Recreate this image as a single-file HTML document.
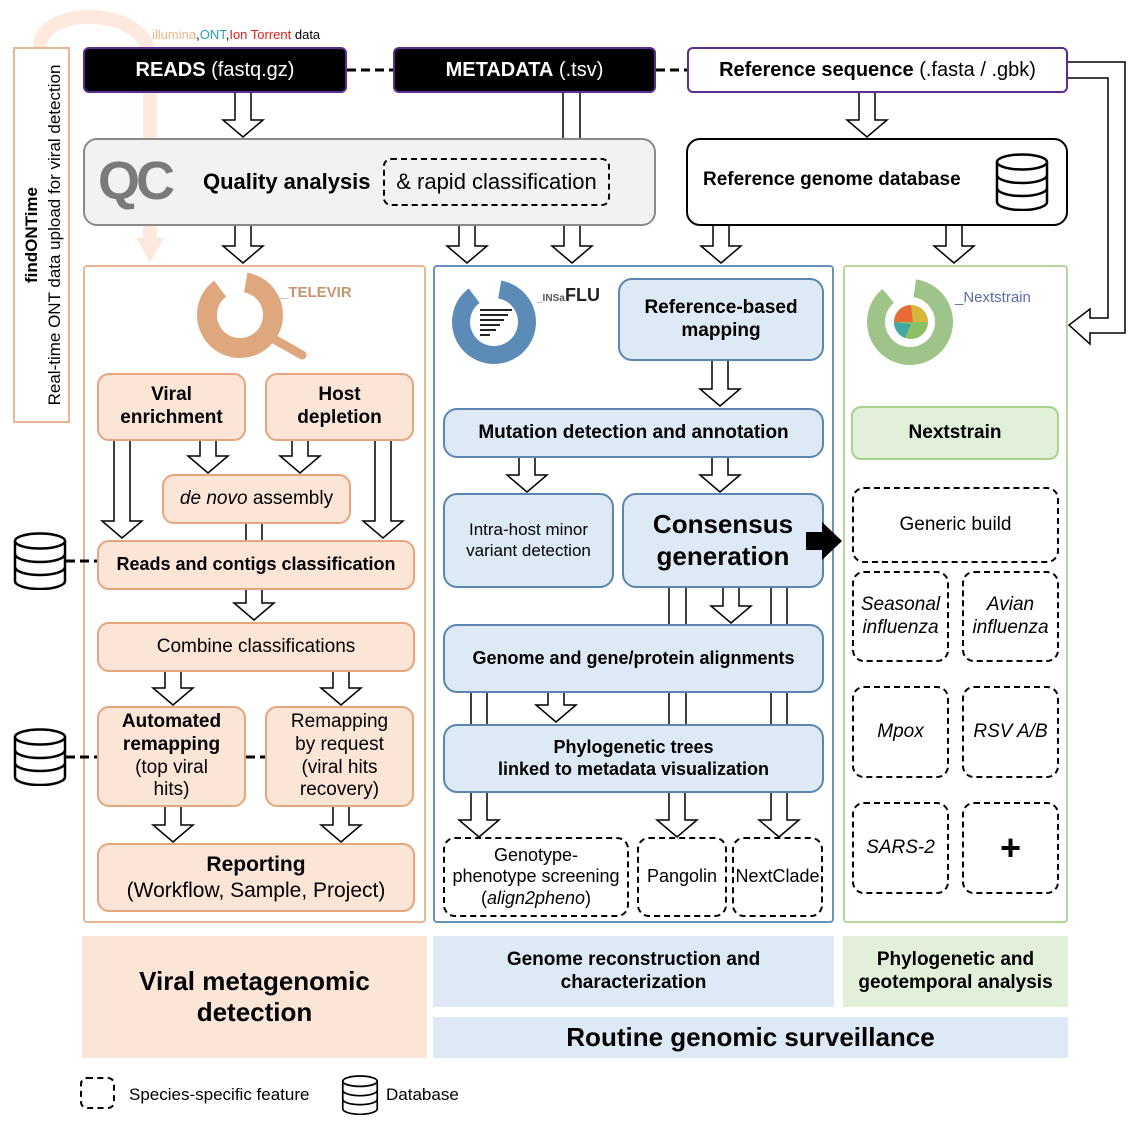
<!DOCTYPE html>
<html><head><meta charset="utf-8"><style>
body{margin:0;background:#fff;}
#c{position:relative;width:1142px;height:1125px;overflow:hidden;font-family:"Liberation Sans",Arial,sans-serif;color:#000;}
.b{position:absolute;box-sizing:border-box;display:flex;align-items:center;justify-content:center;text-align:center;line-height:1.2;}
.o{background:#fbe5d6;border:2px solid #e5a57d;border-radius:12px;font-size:19px;}
.bl{background:#dde9f5;border:2.5px solid #5a86b2;border-radius:14px;font-size:19px;}
.d{border:2px dashed #000;border-radius:12px;font-size:19px;background:#fff;}
.bold{font-weight:bold;}
svg{position:absolute;left:0;top:0;}
</style></head><body><div id="c">
<svg width="1142" height="1125" style="z-index:0">
<path d="M40 47 C40 5,150 5,150 60 V240" fill="none" stroke="#fde9dd" stroke-width="14"/>
<path d="M136 238 L164 238 L150 262Z" fill="#fde9dd"/>
</svg>

<!-- findONTime box -->
<div class="b" style="left:13px;top:47px;width:57px;height:376px;border:2px solid #e9b594;background:#fff;"></div>
<svg width="1142" height="1125" style="z-index:1">
<text transform="translate(37 235) rotate(-90)" text-anchor="middle" font-size="17" font-weight="bold">findONTime</text>
<text transform="translate(60 235) rotate(-90)" text-anchor="middle" font-size="17">Real-time ONT data upload for viral detection</text>
</svg>

<!-- top label -->
<div style="position:absolute;left:152px;top:27px;font-size:13px;"><span style="color:#f0b48a">illumina</span>,<span style="color:#2aa3b8">ONT</span>,<span style="color:#e0201b">Ion Torrent</span> data</div>

<div class="b" style="left:83px;top:47px;width:264px;height:46px;background:#000;border:2px solid #5c2d91;border-radius:6px;color:#fff;font-size:20px;"><b>READS</b>&nbsp;(fastq.gz)</div>
<div class="b" style="left:393px;top:47px;width:263px;height:46px;background:#000;border:2px solid #5c2d91;border-radius:6px;color:#fff;font-size:20px;"><b>METADATA</b>&nbsp;(.tsv)</div>
<div class="b" style="left:687px;top:47px;width:381px;height:46px;background:#fff;border:2px solid #5c2d91;border-radius:6px;font-size:20px;"><b>Reference sequence</b>&nbsp;(.fasta / .gbk)</div>

<!-- QC -->
<div class="b" style="left:83px;top:138px;width:573px;height:88px;background:#f2f2f2;border:2px solid #8a8a8a;border-radius:14px;"></div>
<div style="position:absolute;left:98px;top:150px;font-size:54px;font-weight:bold;color:#7a7a7a;letter-spacing:-4px;">QC</div>
<div style="position:absolute;left:203px;top:169px;font-size:22px;font-weight:bold;">Quality analysis</div>
<div class="b" style="left:383px;top:158px;width:227px;height:48px;border:2px dashed #000;border-radius:8px;font-size:22px;">&amp; rapid classification</div>

<div class="b" style="left:686px;top:138px;width:382px;height:88px;background:#fff;border:2.5px solid #000;border-radius:14px;"></div>
<div style="position:absolute;left:703px;top:169px;font-size:19px;font-weight:bold;">Reference genome database</div>

<!-- columns -->
<div class="b" style="left:83px;top:265px;width:343px;height:658px;border:2px solid #e9b594;border-radius:4px;"></div>
<div class="b" style="left:433px;top:265px;width:401px;height:658px;border:2px solid #6a93bb;border-radius:4px;"></div>
<div class="b" style="left:843px;top:265px;width:225px;height:658px;border:2px solid #b5d69e;border-radius:4px;"></div>

<!-- orange contents -->
<div class="b o bold" style="left:97px;top:373px;width:149px;height:68px;">Viral<br>enrichment</div>
<div class="b o bold" style="left:265px;top:373px;width:149px;height:68px;">Host<br>depletion</div>
<div class="b o" style="left:162px;top:474px;width:189px;height:50px;"><i>de novo</i>&nbsp;assembly</div>
<div class="b o bold" style="left:97px;top:540px;width:318px;height:50px;font-size:18px;">Reads and contigs classification</div>
<div class="b o" style="left:97px;top:622px;width:318px;height:50px;">Combine classifications</div>
<div class="b o" style="left:97px;top:706px;width:149px;height:101px;"><span><b>Automated<br>remapping</b><br>(top viral<br>hits)</span></div>
<div class="b o" style="left:265px;top:706px;width:149px;height:101px;">Remapping<br>by request<br>(viral hits<br>recovery)</div>
<div class="b o" style="left:97px;top:843px;width:318px;height:69px;font-size:21px;"><span><b>Reporting</b><br>(Workflow, Sample, Project)</span></div>

<!-- blue contents -->
<div class="b bl bold" style="left:618px;top:278px;width:206px;height:83px;">Reference-based<br>mapping</div>
<div class="b bl bold" style="left:443px;top:408px;width:381px;height:50px;">Mutation detection and annotation</div>
<div class="b bl" style="left:443px;top:493px;width:171px;height:95px;font-size:17px;">Intra-host minor<br>variant detection</div>
<div class="b bl bold" style="left:622px;top:493px;width:202px;height:95px;font-size:26px;">Consensus<br>generation</div>
<div class="b bl bold" style="left:443px;top:624px;width:381px;height:69px;font-size:18px;">Genome and gene/protein alignments</div>
<div class="b bl bold" style="left:443px;top:724px;width:381px;height:69px;font-size:18px;">Phylogenetic trees<br>linked to metadata visualization</div>
<div class="b d" style="left:443px;top:837px;width:186px;height:80px;font-size:18px;"><span>Genotype-<br>phenotype screening<br>(<i>align2pheno</i>)</span></div>
<div class="b d" style="left:637px;top:837px;width:90px;height:80px;font-size:18px;">Pangolin</div>
<div class="b d" style="left:732px;top:837px;width:91px;height:80px;font-size:18px;">NextClade</div>

<!-- green contents -->
<div class="b bold" style="left:851px;top:406px;width:208px;height:54px;background:#e2efd9;border:2.5px solid #a9d18e;border-radius:10px;font-size:19px;">Nextstrain</div>
<div class="b d" style="left:852px;top:487px;width:207px;height:76px;">Generic build</div>
<div class="b d" style="left:852px;top:571px;width:97px;height:91px;"><i>Seasonal<br>influenza</i></div>
<div class="b d" style="left:962px;top:571px;width:97px;height:91px;"><i>Avian<br>influenza</i></div>
<div class="b d" style="left:852px;top:686px;width:97px;height:92px;"><i>Mpox</i></div>
<div class="b d" style="left:962px;top:686px;width:97px;height:92px;"><i>RSV A/B</i></div>
<div class="b d" style="left:852px;top:802px;width:97px;height:92px;"><i>SARS-2</i></div>
<div class="b d" style="left:962px;top:802px;width:97px;height:92px;font-size:36px;font-weight:bold;">+</div>

<!-- bottom labels -->
<div class="b bold" style="left:82px;top:936px;width:345px;height:122px;background:#fbe5d6;font-size:26px;">Viral metagenomic<br>detection</div>
<div class="b bold" style="left:433px;top:936px;width:401px;height:71px;background:#dde9f5;font-size:19px;">Genome reconstruction and<br>characterization</div>
<div class="b bold" style="left:843px;top:936px;width:225px;height:71px;background:#e2efd9;font-size:19px;">Phylogenetic and<br>geotemporal analysis</div>
<div class="b bold" style="left:433px;top:1017px;width:635px;height:41px;background:#dde9f5;font-size:26px;">Routine genomic surveillance</div>

<!-- legend -->
<div class="b" style="left:80px;top:1077px;width:35px;height:32px;border:2px dashed #000;border-radius:7px;"></div>
<div style="position:absolute;left:129px;top:1085px;font-size:17px;">Species-specific feature</div>
<div style="position:absolute;left:386px;top:1085px;font-size:17px;">Database</div>

<svg width="1142" height="1125" style="z-index:5">
<defs>
<symbol id="db" viewBox="0 0 54 58">
<path d="M2 9V49A25 8 0 0 0 52 49V9" fill="#fff" stroke="#000" stroke-width="2.5"/>
<ellipse cx="27" cy="9" rx="25" ry="7.5" fill="#fff" stroke="#000" stroke-width="2.5"/>
<path d="M2 22A25 8 0 0 0 52 22M2 35A25 8 0 0 0 52 35" fill="none" stroke="#000" stroke-width="2.5"/>
</symbol>
</defs>
<!-- dashed connectors -->
<g stroke="#000" stroke-width="3" stroke-dasharray="9 5">
<line x1="347" y1="70" x2="393" y2="70"/><line x1="656" y1="70" x2="687" y2="70"/>
<line x1="66" y1="561" x2="97" y2="561"/><line x1="66" y1="757" x2="97" y2="757"/>
<line x1="246" y1="757" x2="265" y2="757"/>
</g>
<use href="#db" x="995" y="153" width="54" height="58"/>
<use href="#db" x="13" y="532" width="54" height="58"/>
<use href="#db" x="13" y="728" width="54" height="58"/>
<use href="#db" x="341" y="1075" width="38" height="40"/>
<!-- parallel lines -->
<g stroke="#000" stroke-width="1.5">
<line x1="563" y1="93" x2="563" y2="138"/><line x1="580" y1="93" x2="580" y2="138"/>
<line x1="246" y1="524" x2="246" y2="540"/><line x1="262" y1="524" x2="262" y2="540"/>
<line x1="669" y1="588" x2="669" y2="624"/><line x1="686" y1="588" x2="686" y2="624"/>
<line x1="771" y1="588" x2="771" y2="624"/><line x1="787" y1="588" x2="787" y2="624"/>
<line x1="471" y1="693" x2="471" y2="724"/><line x1="487" y1="693" x2="487" y2="724"/>
<line x1="669" y1="693" x2="669" y2="724"/><line x1="686" y1="693" x2="686" y2="724"/>
<line x1="771" y1="693" x2="771" y2="724"/><line x1="787" y1="693" x2="787" y2="724"/>
</g>
<g fill="#fff" stroke="#000" stroke-width="1.5">
<path d="M235 93V120H223L243 137L263 120H251V93"/>
<path d="M859 93V120H847L867 137L887 120H875V93"/>
<path d="M235 226V246H223L243 263L263 246H251V226"/>
<path d="M459 226V246H447L467 263L487 246H475V226"/>
<path d="M564 226V246H552L572 263L592 246H580V226"/>
<path d="M713 226V246H701L721 263L741 246H729V226"/>
<path d="M946 226V246H934L954 263L974 246H962V226"/>
<path d="M114 441V521H102L122 538L142 521H130V441"/>
<path d="M200 441V456H188L208 473L228 456H216V441"/>
<path d="M292 441V456H280L300 473L320 456H308V441"/>
<path d="M375 441V521H363L383 538L403 521H391V441"/>
<path d="M246 590V603H234L254 620L274 603H262V590"/>
<path d="M165 672V688H153L173 705L193 688H181V672"/>
<path d="M333 672V688H321L341 705L361 688H349V672"/>
<path d="M165 807V825H153L173 842L193 825H181V807"/>
<path d="M333 807V825H321L341 842L361 825H349V807"/>
<path d="M712 361V389H700L720 406L740 389H728V361"/>
<path d="M519 458V475H507L527 492L547 475H535V458"/>
<path d="M712 458V475H700L720 492L740 475H728V458"/>
<path d="M723 588V606H711L731 623L751 606H739V588"/>
<path d="M548 693V705H536L556 722L576 705H564V693"/>
<path d="M471 793V820H459L479 837L499 820H487V793"/>
<path d="M669 793V820H657L677 837L697 820H685V793"/>
<path d="M771 793V820H759L779 837L799 820H787V793"/>
<path d="M1068 62H1125V333H1090V344L1069 325L1090 309V318H1108V78H1068"/>
</g>
<path d="M806 532H822V522L842 541L822 560V550H806Z" fill="#000"/>

<!-- TELEVIR logo -->
<circle cx="240" cy="315" r="33" fill="none" stroke="#dfa77e" stroke-width="20" stroke-dasharray="180 27" transform="rotate(-80 240 315)"/>
<line x1="272" y1="338" x2="302" y2="355" stroke="#dfa77e" stroke-width="9" stroke-linecap="round"/>
<text x="280" y="297" font-size="15" font-weight="bold" fill="#c99470">_TELEVIR</text>
<!-- INSaFLU logo -->
<circle cx="494" cy="322" r="33" fill="none" stroke="#5b8bb6" stroke-width="18" stroke-dasharray="180 27" transform="rotate(-80 494 322)"/>
<g stroke="#222" stroke-width="2"><line x1="480" y1="310" x2="512" y2="310"/><line x1="480" y1="315" x2="508" y2="315"/><line x1="480" y1="320" x2="504" y2="320"/><line x1="480" y1="325" x2="500" y2="325"/><line x1="480" y1="330" x2="496" y2="330"/><line x1="480" y1="335" x2="490" y2="335"/></g>
<text x="537" y="301" font-size="10" font-weight="bold" fill="#555">_INSa</text>
<text x="565" y="301" font-size="18" font-weight="bold" fill="#222">FLU</text>
<!-- Nextstrain logo -->
<circle cx="910" cy="322" r="34" fill="none" stroke="#9ec48a" stroke-width="18" stroke-dasharray="185 29" transform="rotate(-82 910 322)"/>
<circle cx="911" cy="322" r="17" fill="#8cc063"/>
<path d="M894 322A17 17 0 0 1 911 305L913 322Z" fill="#ea6a35"/>
<path d="M911 305A17 17 0 0 1 928 322L913 322Z" fill="#d8b63a"/>
<path d="M894 322A17 17 0 0 0 905 338L911 324Z" fill="#3fa9a0"/>
<text x="955" y="302" font-size="15" fill="#5a6cab">_Nextstrain</text>
</svg>
</div></body></html>
